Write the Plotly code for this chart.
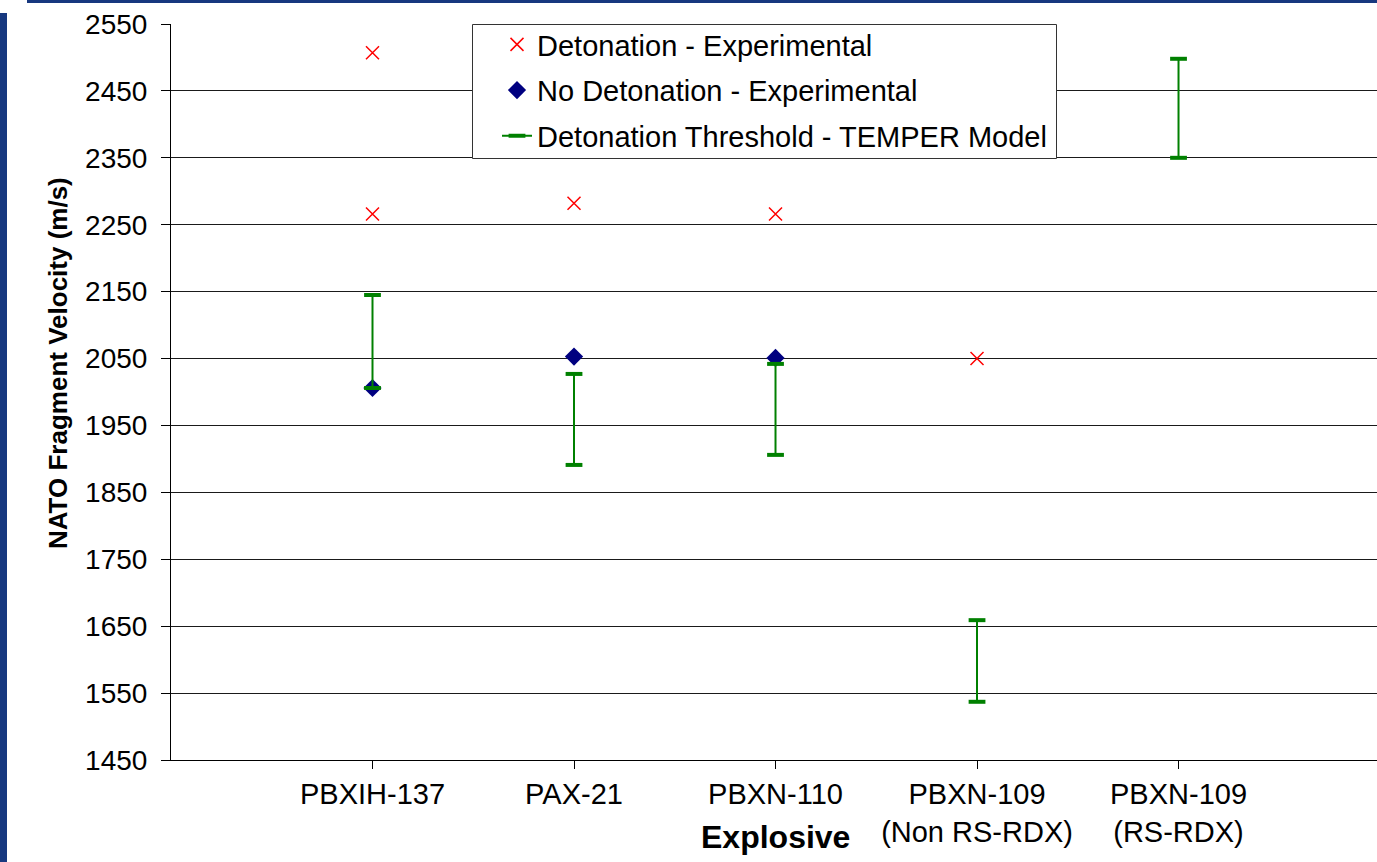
import plotly.graph_objects as go

# ---- data ----
categories = ["PBXIH-137", "PAX-21", "PBXN-110", "PBXN-109<br>(Non RS-RDX)", "PBXN-109<br>(RS-RDX)"]
cat_pos = [1, 2, 3, 4, 5]

det_cat = [0, 0, 1, 2, 3]
det_vel = [2507, 2266, 2282, 2266, 2050]

nodet_cat = [0, 1, 2]
nodet_vel = [2006, 2053, 2051]

thr_low = [2006, 1891, 1906, 1537, 2350]
thr_high = [2145, 2027, 2042, 1659, 2498]

y_ticks = [1450, 1550, 1650, 1750, 1850, 1950, 2050, 2150, 2250, 2350, 2450, 2550]

FONT = "Arial, Liberation Sans, sans-serif"

fig = go.Figure()

fig.add_trace(go.Scatter(
    x=[cat_pos[i] for i in det_cat], y=det_vel, mode="markers",
    name="Detonation - Experimental", legendgroup="a",
    marker=dict(symbol="x-thin-open", size=13, color="#ff0000",
                line=dict(color="#ff0000", width=1.5)),
))
fig.add_trace(go.Scatter(
    x=[cat_pos[i] for i in nodet_cat], y=nodet_vel, mode="markers",
    name="No Detonation - Experimental", legendgroup="b",
    marker=dict(symbol="diamond", size=14, color="#000080"),
))

tx, ty = [], []
for p, lo, hi in zip(cat_pos, thr_low, thr_high):
    tx += [p, p, None]
    ty += [lo, hi, None]
fig.add_trace(go.Scatter(
    x=tx, y=ty, mode="lines+markers",
    name="Detonation Threshold - TEMPER Model", legendgroup="c",
    line=dict(color="#008000", width=2),
    marker=dict(symbol="line-ew-open", size=12, color="#008000",
                line=dict(color="#008000", width=4)),
))

W, H = 1377, 862
L, T, B, R = 171, 24, 102, 0
pw, ph = W - L - R, H - T - B

def px(x):
    return (x - L) / pw

def py(y):
    return (H - B - y) / ph

fig.update_layout(
    width=W, height=H,
    margin=dict(l=L, r=R, t=T, b=B),
    paper_bgcolor="white", plot_bgcolor="white",
    font=dict(family=FONT, size=28, color="black"),
    showlegend=True,
    legend=dict(
        x=px(497), y=py(19), xanchor="left", yanchor="top",
        bgcolor="rgba(0,0,0,0)", borderwidth=0,
        font=dict(family=FONT, size=29, color="black"),
        tracegroupgap=5, traceorder="grouped",
    ),
    xaxis=dict(
        range=[0, 5.985], tickmode="array", tickvals=cat_pos, ticktext=categories,
        showgrid=False, zeroline=False, showline=True, linecolor="black", linewidth=1,
        ticks="outside", ticklen=8, tickcolor="black",
        tickfont=dict(family=FONT, size=29, color="black"),
    ),
    yaxis=dict(
        range=[1450, 2550], tickmode="array", tickvals=y_ticks,
        showgrid=True, gridcolor="#1a1a1a", gridwidth=1,
        zeroline=False, showline=True, linecolor="black", linewidth=1,
        ticks="outside", ticklen=9, tickcolor="black",
        tickfont=dict(family=FONT, size=28, color="black"),
        ticklabelstandoff=8,
    ),
    shapes=[
        # legend box
        dict(type="rect", xref="paper", yref="paper",
             x0=px(472.5), x1=px(1056.5), y0=py(158.5), y1=py(24.5),
             fillcolor="white", line=dict(color="#333333", width=1), layer="above"),
        # decorative slide bars
        dict(type="rect", xref="paper", yref="paper",
             x0=px(0), x1=px(7), y0=py(862), y1=py(13),
             fillcolor="#17387f", line=dict(width=0), layer="above"),
        dict(type="rect", xref="paper", yref="paper",
             x0=px(27), x1=px(1377), y0=py(3), y1=py(0),
             fillcolor="#17387f", line=dict(width=0), layer="above"),
    ],
    annotations=[
        dict(text="<b>NATO Fragment Velocity (m/s)</b>", xref="paper", yref="paper",
             x=px(58), y=py(363), textangle=-90, showarrow=False,
             xanchor="center", yanchor="middle",
             font=dict(family=FONT, size=26, color="black")),
        dict(text="<b>Explosive</b>", xref="paper", yref="paper",
             x=px(775), y=py(837), showarrow=False,
             xanchor="center", yanchor="middle",
             font=dict(family=FONT, size=32, color="black")),
    ],
)

fig.write_html("out.html")
